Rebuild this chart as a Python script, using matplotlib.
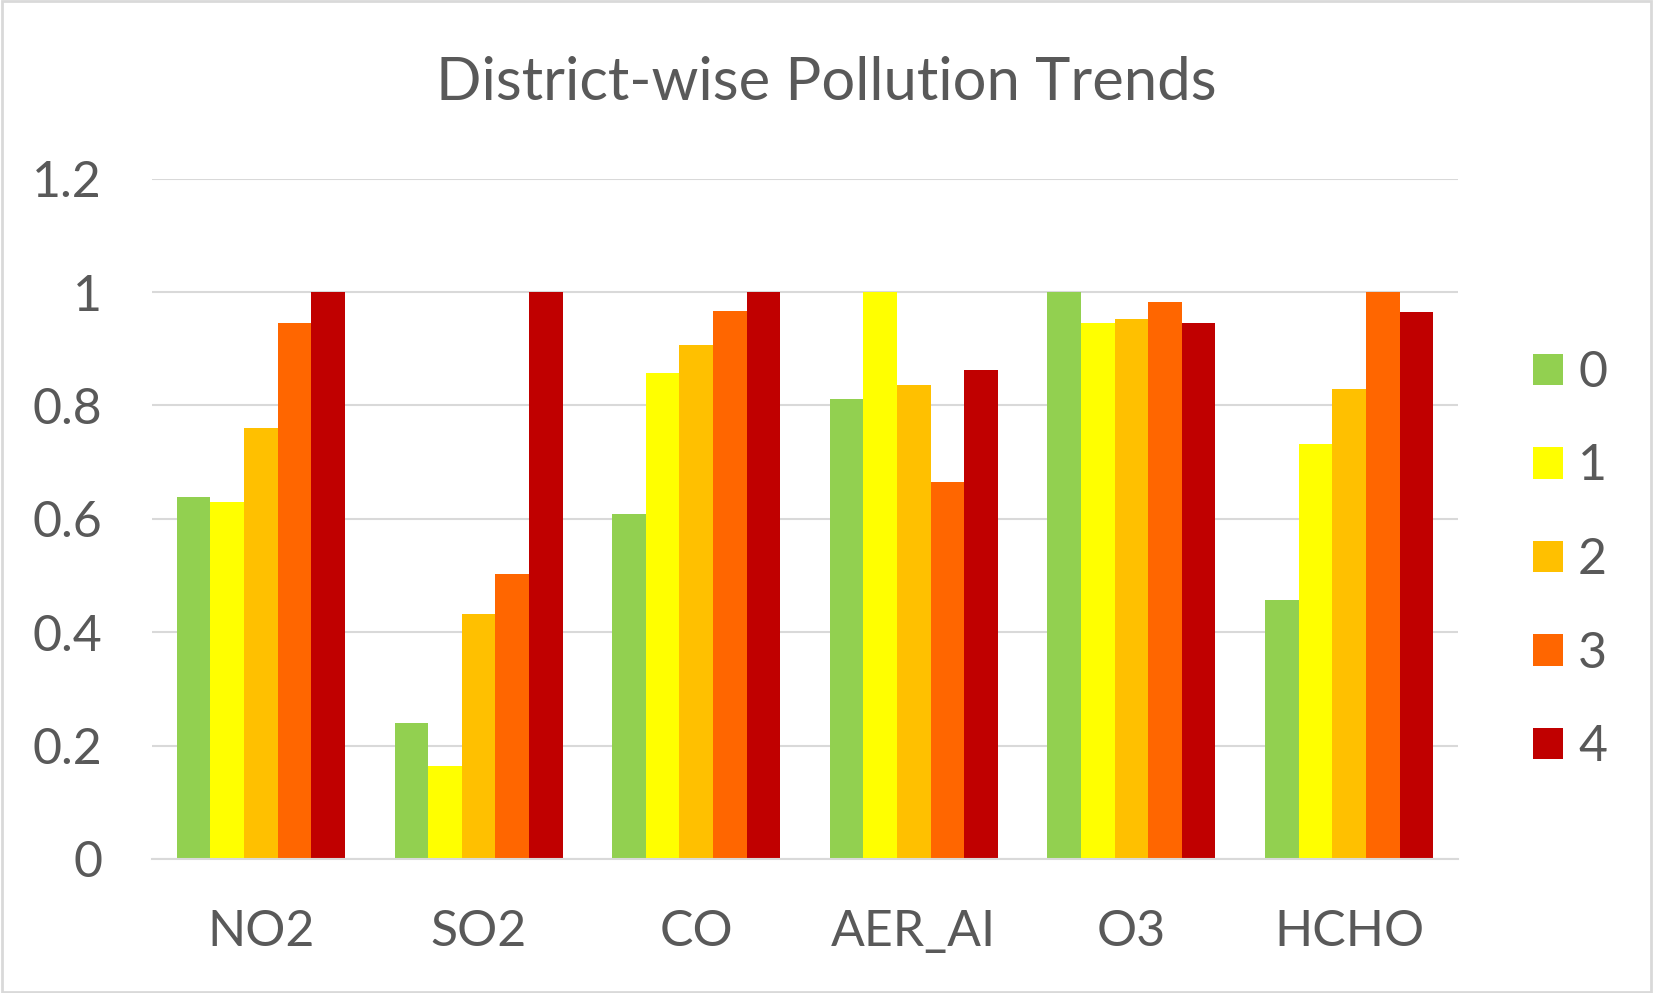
import matplotlib
matplotlib.use("Agg")
import matplotlib.pyplot as plt
import numpy as np
from matplotlib.patches import Patch, Rectangle

categories = ["NO2", "SO2", "CO", "AER_AI", "O3", "HCHO"]
series_names = ["0", "1", "2", "3", "4"]
s0 = [0.639, 0.240, 0.609, 0.812, 1.000, 0.456]
s1 = [0.629, 0.164, 0.858, 1.000, 0.946, 0.732]
s2 = [0.760, 0.432, 0.907, 0.836, 0.952, 0.829]
s3 = [0.946, 0.503, 0.966, 0.665, 0.983, 1.000]
s4 = [1.000, 1.000, 1.000, 0.862, 0.946, 0.965]
series = [s0, s1, s2, s3, s4]
colors = ["#92D050", "#FFFF00", "#FFC000", "#FF6600", "#C00000"]
yticks = [0, 0.2, 0.4, 0.6, 0.8, 1, 1.2]
yticklabels = ["0", "0.2", "0.4", "0.6", "0.8", "1", "1.2"]

plt.rcParams['font.family'] = ['Lato', 'DejaVu Sans']
txt = "#595959"
grid = "#D9D9D9"

fig = plt.figure(figsize=(16.53, 9.93), dpi=100)
ax = fig.add_axes([0.092, 0.135, 0.790, 0.685])

x = np.arange(len(categories))
bw = 0.1544
for i, (vals, c) in enumerate(zip(series, colors)):
    ax.bar(x + (i - 2) * bw, vals, width=bw, color=c, label=series_names[i], zorder=3)

ax.set_xlim(-0.5, len(categories) - 0.5)
ax.set_ylim(0, 1.2)
ax.set_yticks(yticks)
ax.set_yticklabels(yticklabels)
ax.set_xticks(x)
ax.set_xticklabels(categories)
ax.yaxis.grid(True, color=grid, linewidth=1.5, zorder=0)
for s in ["top", "right", "left"]:
    ax.spines[s].set_visible(False)
ax.spines["bottom"].set_color(grid)
ax.spines["bottom"].set_linewidth(1.5)
ax.spines["bottom"].set_zorder(4)
ax.tick_params(axis="y", length=0, pad=36, labelsize=36, labelcolor=txt)
ax.tick_params(axis="x", length=0, pad=36, labelsize=36, labelcolor=txt)

fig.text(0.5, 1 - 83 / 993, "District-wise Pollution Trends", ha="center", va="center",
         fontsize=43, color=txt)

handles = [Patch(facecolor=c, edgecolor="none") for c in colors]
fig.legend(handles, series_names, loc="center left",
           bbox_to_anchor=(1508 / 1653, 1 - 560 / 993), frameon=False,
           fontsize=36, handlelength=0.6, handleheight=0.6, labelspacing=0.95,
           handletextpad=0.3, borderpad=0, labelcolor=txt)

fig.patches.append(Rectangle((0.001, 0.001), 0.998, 0.998, transform=fig.transFigure,
                             fill=False, edgecolor=grid, linewidth=2))

fig.savefig("out.png", dpi=100, facecolor="white")
